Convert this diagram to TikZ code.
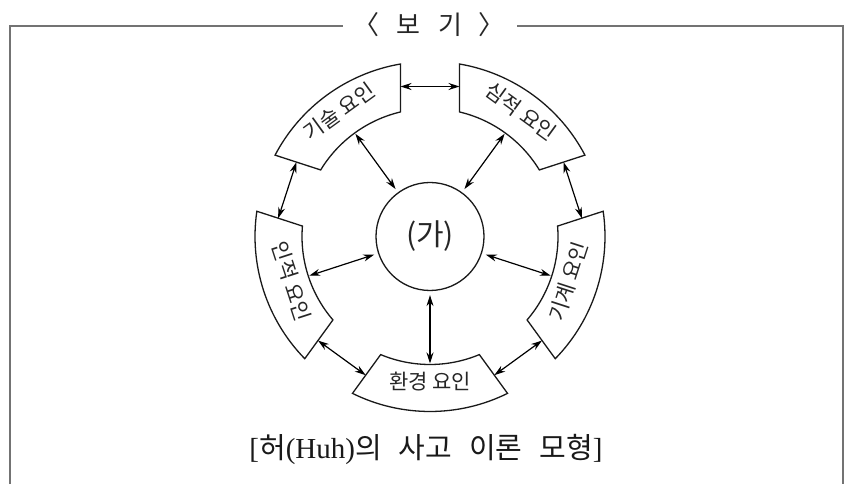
\documentclass[tikz,border=0pt]{standalone}
\usepackage{fontspec}
\setmainfont{Liberation Serif}
\newfontfamily\kr{Noto Sans CJK KR}
\usetikzlibrary{arrows.meta,calc}
\tikzset{
  seg/.style={draw=black!90, line width=1.3pt, line join=miter},
  link/.style={{Stealth[length=11pt,width=7pt]}-{Stealth[length=11pt,width=7pt]}, line width=1.2pt, draw=black},
  frameline/.style={draw=black!55, line width=1.8pt},
  lab/.style={font=\kr\fontsize{21}{21}\selectfont, inner sep=0pt, text height=0.8em, text depth=0.12em, text=black!85},
}
\newcommand\ringseg[2]{%
  \pgfmathsetmacro\ao{asin(29.5/175)}%
  \pgfmathsetmacro\ai{asin(29.5/128)}%
  \draw[seg] ($(C)+({#2+36-\ao}:175pt)$) arc[start angle={#2+36-\ao}, end angle={#2-36+\ao}, radius=175pt]
     -- ($(C)+({#2-36+\ai}:128pt)$) arc[start angle={#2-36+\ai}, end angle={#2+36-\ai}, radius=128pt] -- cycle;
  \coordinate (#1-in) at ($(C)+(#2:127pt)$);
  \coordinate (#1-a) at ($(C)+({#2+36}:150pt)+({#2-54}:29.5pt)$);
  \coordinate (#1-b) at ($(C)+({#2-36}:150pt)+({#2+54}:29.5pt)$);
}
\begin{document}
\begin{tikzpicture}[x=1pt,y=1pt]
\useasboundingbox (0,0) rectangle (850,484);
% frame
\coordinate (f1) at (10,0);
\coordinate (f2) at (10,458);
\coordinate (f3) at (843,458);
\coordinate (f4) at (843,0);
\coordinate (tl) at (343,458);
\coordinate (tr) at (517,458);
\draw[frameline] (f1) -- (f2) -- (tl);
\draw[frameline] (tr) -- (f3) -- (f4);
\node[font=\kr\fontsize{26}{26}\selectfont, text=black!85, inner sep=0pt] (title) at (429,459) {〈\hspace{17pt}보\hspace{18pt}기\hspace{17pt}〉};
% diagram
\coordinate (C) at (430,247.5);
\ringseg{ski}{126}
\ringseg{sim}{54}
\ringseg{gi}{-18}
\ringseg{hw}{-90}
\ringseg{in}{-162}
\node[lab, rotate=36]   (ski-t) at ($(C)+(126:150pt)$) {기술 요인};
\node[lab, rotate=-36]  (sim-t) at ($(C)+(54:150pt)$)  {심적 요인};
\node[lab, rotate=72]   (gi-t)  at ($(C)+(-18:150pt)$) {기계 요인};
\node[lab, rotate=0]    (hw-t)  at ($(C)+(-90:150pt)$) {환경 요인};
\node[lab, rotate=-72]  (in-t)  at ($(C)+(-162:150pt)$) {인적 요인};
\node[circle, draw=black!90, line width=1.3pt, minimum size=108pt, inner sep=0pt, font=\kr\fontsize{30}{30}\selectfont, text=black!85] (ga) at (C) {(가)};
% radial arrows
\foreach \s in {ski,sim,gi,hw,in}
  \draw[link, shorten <=4pt] (ga) -- (\s-in);
% gap arrows
\draw[link] (ski-b) -- (sim-a);
\draw[link] (sim-b) -- (gi-a);
\draw[link] (gi-b) -- (hw-a);
\draw[link] (hw-b) -- (in-a);
\draw[link] (in-b) -- (ski-a);
% caption
\node[font=\fontsize{29}{31}\selectfont, text=black!90, inner sep=0pt] (cap) at (426,35) {[{\kr 허}(Huh){\kr 의}\hspace{17pt}{\kr 사고}\hspace{17pt}{\kr 이론}\hspace{17pt}{\kr 모형}]};
\end{tikzpicture}
\end{document}
